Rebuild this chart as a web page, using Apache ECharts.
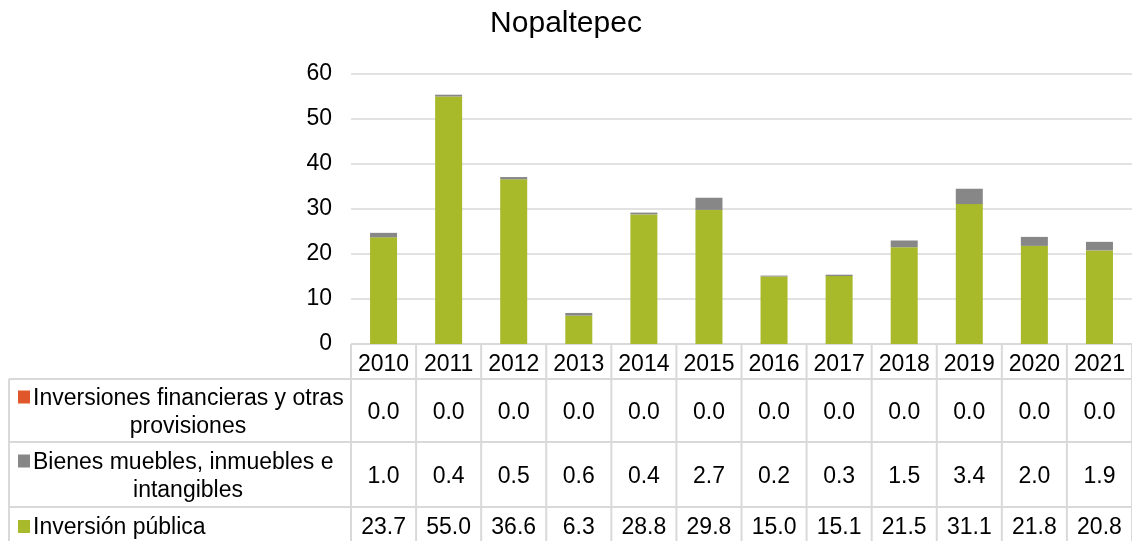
<!DOCTYPE html>
<html>
<head>
<meta charset="utf-8">
<script src="https://cdn.jsdelivr.net/npm/echarts@6/dist/echarts.min.js"></script>
<style>
  html, body { margin: 0; padding: 0; background: #fff; }
  #chart { width: 1132px; height: 541px; }
</style>
</head>
<body>
<div id="chart"></div>
<script>
  // datos
  const years = ['2010', '2011', '2012', '2013', '2014', '2015', '2016', '2017', '2018', '2019', '2020', '2021']
  const inversionPublica = [23.7, 55.0, 36.6, 6.3, 28.8, 29.8, 15.0, 15.1, 21.5, 31.1, 21.8, 20.8]
  const bienesMuebles = [1.0, 0.4, 0.5, 0.6, 0.4, 2.7, 0.2, 0.3, 1.5, 3.4, 2.0, 1.9]
  const inversionesFinancieras = [0.0, 0.0, 0.0, 0.0, 0.0, 0.0, 0.0, 0.0, 0.0, 0.0, 0.0, 0.0]
  const yMin = 0
  const yMax = 60
  const yStep = 10

  const FONT = '"Liberation Sans", Arial, sans-serif'
  const GRID_COLOR = '#d9d9d9'
  const colors = {
    financieras: '#e0572b',
    bienes: '#878787',
    publica: '#a8b92a'
  }

  let chart = echarts.init(document.getElementById('chart'))

  let option = {
    animation: false,
    title: {
      text: 'Nopaltepec',
      left: 'center',
      top: 4,
      textStyle: { fontFamily: FONT, fontWeight: 'normal', fontSize: 30, color: '#000' }
    },
    grid: { left: 351, right: -2, top: 74, bottom: 197 },
    xAxis: {
      type: 'category',
      data: years,
      axisLine: { show: false },
      axisTick: { show: false },
      axisLabel: { show: false }
    },
    yAxis: {
      type: 'value',
      min: yMin,
      max: yMax,
      interval: yStep,
      axisLine: { show: false },
      axisTick: { show: false },
      axisLabel: { fontFamily: FONT, fontSize: 23, color: '#000', margin: 19 },
      splitLine: { lineStyle: { color: GRID_COLOR, width: 1.5 } }
    },
    series: [
      {
        name: 'Inversión pública',
        type: 'bar',
        stack: 'total',
        barWidth: 27,
        itemStyle: { color: colors.publica },
        data: inversionPublica
      },
      {
        name: 'Bienes muebles, inmuebles e intangibles',
        type: 'bar',
        stack: 'total',
        itemStyle: { color: colors.bienes },
        data: bienesMuebles
      },
      {
        name: 'Inversiones financieras y otras provisiones',
        type: 'bar',
        stack: 'total',
        itemStyle: { color: colors.financieras },
        data: inversionesFinancieras
      }
    ]
  }
  chart.setOption(option)

  // tabla de datos bajo el eje
  function buildTable() {
    let x0 = chart.convertToPixel({ xAxisIndex: 0 }, 0)
    let x1 = chart.convertToPixel({ xAxisIndex: 0 }, 1)
    let band = x1 - x0
    let left = x0 - band / 2
    let right = left + band * years.length
    let yAxisZero = chart.convertToPixel({ yAxisIndex: 0 }, 0)
    let headerBottom = 379
    let labelLeft = 9
    let rows = [
      { lines: ['Inversiones financieras y otras', 'provisiones'], color: colors.financieras, values: inversionesFinancieras, top: 379, bottom: 442 },
      { lines: ['Bienes muebles, inmuebles e', 'intangibles'], color: colors.bienes, values: bienesMuebles, top: 442, bottom: 507 },
      { lines: ['Inversión pública'], color: colors.publica, values: inversionPublica, top: 507, bottom: 547 }
    ]
    let els = []
    let line = (xa, ya, xb, yb) => els.push({
      type: 'line', shape: { x1: xa, y1: ya, x2: xb, y2: yb },
      style: { stroke: GRID_COLOR, lineWidth: 2 }, silent: true
    })
    // +2 para igualar la línea base del original
    let text = (t, x, y, align) => els.push({
      type: 'text',
      style: { text: t, x: x, y: y + 2, textAlign: align || 'center', textVerticalAlign: 'middle', font: '23px ' + FONT, fill: '#000' },
      silent: true
    })

    // bordes
    line(left, yAxisZero, right, yAxisZero)
    for (let i = 0; i <= years.length; i++) {
      line(left + band * i, yAxisZero, left + band * i, 541)
    }
    line(labelLeft, headerBottom, labelLeft, 541)
    rows.forEach(r => line(labelLeft, r.top, right, r.top))

    // encabezado de años
    years.forEach((y, i) => text(y, chart.convertToPixel({ xAxisIndex: 0 }, i), (yAxisZero + headerBottom) / 2 + 1))

    // filas
    rows.forEach(r => {
      let mid = (r.top + r.bottom) / 2
      if (r.lines.length === 1) mid = 526
      let lineH = 28
      let firstY = mid - (r.lines.length - 1) * lineH / 2
      els.push({ type: 'rect', shape: { x: 18, y: firstY - 6, width: 12, height: 13 }, style: { fill: r.color }, silent: true })
      r.lines.forEach((t, k) => {
        if (k === 0) text(t, 33, firstY, 'left')
        else text(t, 188, firstY + k * lineH, 'center')
      })
      let valY = r.lines.length === 1 ? 526 : (r.top + r.bottom) / 2
      r.values.forEach((v, i) => text(v.toFixed(1), chart.convertToPixel({ xAxisIndex: 0 }, i), valY))
    })
    chart.setOption({ graphic: { elements: els } })
  }
  buildTable()
</script>
</body>
</html>
